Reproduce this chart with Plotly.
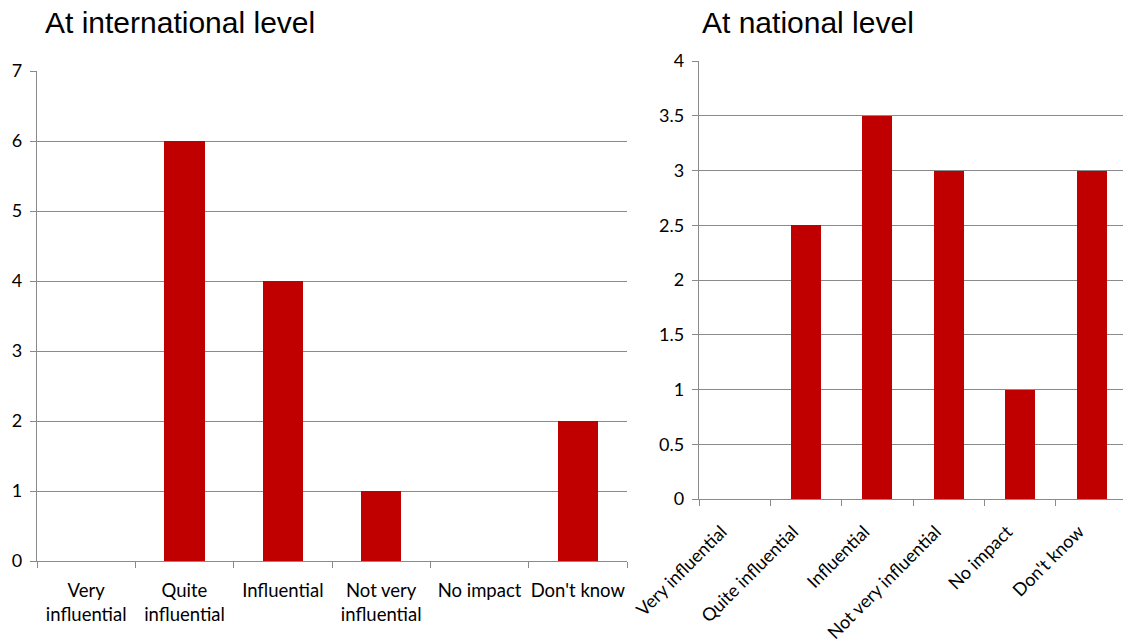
import plotly.graph_objects as go

categories = ["Very influential", "Quite influential", "Influential",
              "Not very influential", "No impact", "Don't know"]
left_tick_text = ["Very<br>influential", "Quite<br>influential", "Influential",
                  "Not very<br>influential", "No impact", "Don't know"]
international = [0, 6, 4, 1, 0, 2]
national = [0, 2.5, 3.5, 3, 1, 3]
left_title = "At international level"
right_title = "At national level"

W, H = 1123, 642
BAR = "#C00000"
GRID = "#8A8A8A"
FONT = "Lato, Calibri, Carlito, sans-serif"
PAD = "\u00a0" * 4  # trailing pad so rotated labels end left of the tick

def px_x(v):
    return v / W

def px_y(v):
    return 1 - v / H

fig = go.Figure()
fig.add_trace(go.Bar(x=categories, y=international, marker_color=BAR,
                     marker_line_width=0,
                     width=0.41, xaxis="x", yaxis="y", showlegend=False))
fig.add_trace(go.Bar(x=categories, y=national, marker_color=BAR,
                     marker_line_width=0,
                     width=0.42, xaxis="x2", yaxis="y2", showlegend=False))

def axis_common(size):
    return dict(showline=True, linecolor=GRID, linewidth=1.4,
                ticks="outside", tickcolor=GRID, ticklen=6, tickwidth=1.4,
                tickfont=dict(family=FONT, size=size, color="#000"),
                automargin=False)

fig.update_layout(
    width=W, height=H,
    margin=dict(l=0, r=0, t=0, b=0),
    paper_bgcolor="white", plot_bgcolor="white",
    bargap=0,
    xaxis=dict(domain=[px_x(37), px_x(627)], anchor="y",
               type="category", range=[-0.5, 5.5],
               tickmode="array", tickvals=categories, ticktext=left_tick_text,
               tickson="boundaries", showgrid=False, tickangle=0,
               ticklabelstandoff=13,
               **axis_common(18.5)),
    yaxis=dict(domain=[px_y(561), px_y(71)], anchor="x",
               range=[0, 7], dtick=1, showgrid=True, gridcolor=GRID,
               gridwidth=1.4, zeroline=False, ticklabelstandoff=4,
               **axis_common(18)),
    xaxis2=dict(domain=[px_x(699), 1], anchor="y2",
                type="category", range=[-0.5, 5.44],
                tickmode="array", tickvals=categories,
                ticktext=[c + PAD for c in categories],
                tickson="boundaries", showgrid=False, tickangle=-45,
                ticklabelstandoff=1,
                **axis_common(18)),
    yaxis2=dict(domain=[px_y(499), px_y(61)], anchor="x2",
                range=[0, 4], dtick=0.5, showgrid=True, gridcolor=GRID,
                gridwidth=1.4, zeroline=False, ticklabelstandoff=4,
                **axis_common(18)),
    annotations=[
        dict(text=left_title, xref="paper", yref="paper",
             x=px_x(43), y=px_y(22), xanchor="left", yanchor="middle",
             showarrow=False,
             font=dict(family="Liberation Sans, Arial", size=30, color="#000")),
        dict(text=right_title, xref="paper", yref="paper",
             x=px_x(700), y=px_y(22), xanchor="left", yanchor="middle",
             showarrow=False,
             font=dict(family="Liberation Sans, Arial", size=30, color="#000")),
    ],
)

fig.write_html("out.html")
